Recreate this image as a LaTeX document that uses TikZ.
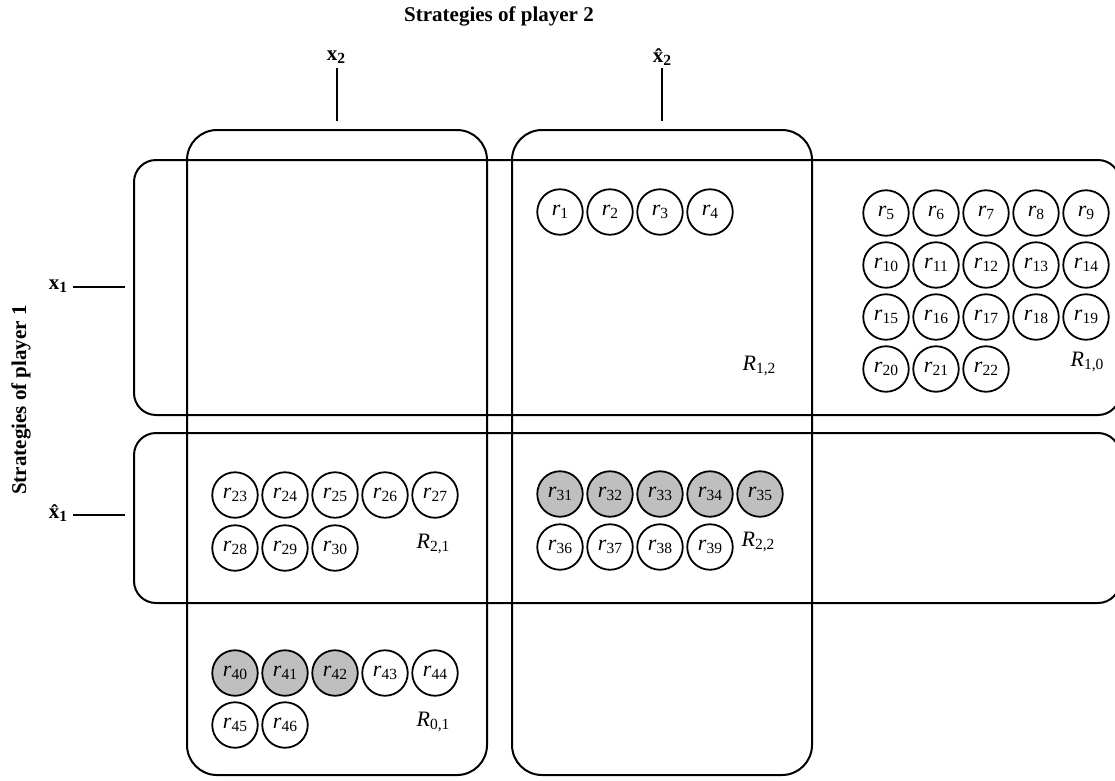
\documentclass[tikz,border=0pt]{standalone}
\usepackage{fontspec}
\setmainfont{Liberation Serif}
\newcommand{\subtxt}[1]{\raisebox{-3.5pt}{\fontsize{15.5}{16}\selectfont #1}}
\newcommand{\rlab}[1]{\textit{r}\subtxt{#1}}
\newcommand{\Rlab}[1]{\textit{R}\subtxt{#1}}
\tikzset{
  x=1pt, y=-1pt,
  colbox/.style={draw, line width=2pt, rounded corners=30pt, minimum width=300pt, minimum height=645pt, inner sep=0pt},
  rowbox/.style={draw, line width=2pt, rounded corners=22pt, minimum width=986pt, inner sep=0pt},
  rc/.style={circle, draw, line width=1.8pt, fill=white, minimum size=45.5pt, inner sep=0pt, font=\fontsize{22}{24}\selectfont},
  rcg/.style={rc, fill=gray!50},
  reglab/.style={font=\fontsize{22}{24}\selectfont, inner sep=0pt},
  stratlab/.style={font=\fontsize{21}{24}\selectfont\bfseries, inner sep=0pt},
  title/.style={font=\fontsize{21}{24}\selectfont\bfseries, inner sep=0pt},
  tick/.style={line width=2pt}
}
\begin{document}
\begin{tikzpicture}
\clip (0,0) rectangle (1115,780);
\fill[white] (0,0) rectangle (1115,780);
% titles
\node[title] (t2) at (499,16) {Strategies of player 2};
\node[title, rotate=90] (t1) at (21,400) {Strategies of player 1};
% strategy labels
\node[stratlab] (x2) at (336,57) {x\subtxt{\bfseries 2}};
\node[stratlab] (hx2) at (662,57) {\^{x}\subtxt{\bfseries 2}};
\node[stratlab] (x1) at (58,286) {x\subtxt{\bfseries 1}};
\node[stratlab] (hx1) at (58,513) {\^{x}\subtxt{\bfseries 1}};
% ticks
\coordinate (ax2) at (337,68); \coordinate (bx2) at (337,121);
\coordinate (ahx2) at (662,68); \coordinate (bhx2) at (662,121);
\coordinate (ax1) at (73,287); \coordinate (bx1) at (125,287);
\coordinate (ahx1) at (73,515); \coordinate (bhx1) at (125,515);
\draw[tick] (ax2) -- (bx2);
\draw[tick] (ahx2) -- (bhx2);
\draw[tick] (ax1) -- (bx1);
\draw[tick] (ahx1) -- (bhx1);
% boxes
\node[colbox] (c1) at (337,452.5) {};
\node[colbox] (c2) at (662,452.5) {};
\node[rowbox, minimum height=255pt] (w1) at (627,287.5) {};
\node[rowbox, minimum height=170pt] (w2) at (627,518) {};
% R_{1,2}
\foreach \i in {1,...,4} {
  \node[rc] (r\i) at ({560+50*(\i-1)},212) {\rlab{\i}};
}
\node[reglab] (R12) at (759,366) {\Rlab{1,2}};
% R_{1,0}
\foreach \i in {5,...,22} {
  \pgfmathtruncatemacro{\c}{mod(\i-5,5)}
  \pgfmathtruncatemacro{\r}{div(\i-5,5)}
  \node[rc] (r\i) at ({886+50*\c},{213+52*\r}) {\rlab{\i}};
}
\node[reglab] (R10) at (1087,362) {\Rlab{1,0}};
% R_{2,1}
\foreach \i in {23,...,30} {
  \pgfmathtruncatemacro{\c}{mod(\i-23,5)}
  \pgfmathtruncatemacro{\r}{div(\i-23,5)}
  \node[rc] (r\i) at ({235+50*\c},{495+53*\r}) {\rlab{\i}};
}
\node[reglab] (R21) at (433,544) {\Rlab{2,1}};
% R_{2,2}
\foreach \i in {31,...,35} {
  \node[rcg] (r\i) at ({560+50*(\i-31)},494) {\rlab{\i}};
}
\foreach \i in {36,...,39} {
  \node[rc] (r\i) at ({560+50*(\i-36)},547) {\rlab{\i}};
}
\node[reglab] (R22) at (758,542) {\Rlab{2,2}};
% R_{0,1}
\foreach \i in {40,...,42} {
  \node[rcg] (r\i) at ({235+50*(\i-40)},673) {\rlab{\i}};
}
\foreach \i in {43,44} {
  \node[rc] (r\i) at ({235+50*(\i-40)},673) {\rlab{\i}};
}
\foreach \i in {45,46} {
  \node[rc] (r\i) at ({235+50*(\i-45)},725) {\rlab{\i}};
}
\node[reglab] (R01) at (433,722) {\Rlab{0,1}};
\end{tikzpicture}
\end{document}
